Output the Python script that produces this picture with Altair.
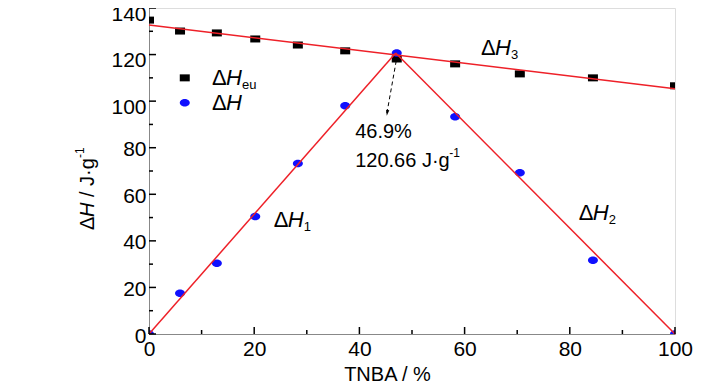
import altair as alt
import pandas as pd

# ---- data ----
tnba = [0, 5.9, 12.9, 20.2, 28.3, 37.3, 47.1, 58.2, 70.5, 84.4, 100]
dH_eu = [134.8, 130.1, 129.3, 126.7, 124.1, 121.6, 118.1, 116.0, 111.7, 110.0, 106.6]
dH = [0, 17.5, 30.4, 50.5, 73.2, 98.0, 120.7, 93.3, 69.3, 31.7, 0]

# fitted lines (start/end points)
fit_x = [0, 100]
fit_h3 = [132.7, 105.3]
eutectic_x = 46.9
eutectic_h = 120.66

x_major = [0, 20, 40, 60, 80, 100]
x_minor = [10, 30, 50, 70, 90]
y_major = [0, 20, 40, 60, 80, 100, 120, 140]
y_minor = [10, 30, 50, 70, 90, 110, 130]

FONT = "Liberation Sans, Arial, sans-serif"
RED = "#ee2028"
BLUE = "#1010ff"

W, H = 526, 326
xs = alt.Scale(domain=[0, 100], nice=False, zero=False)
ys = alt.Scale(domain=[0, 140], nice=False, zero=False)

pts = pd.DataFrame({"x": tnba, "eu": dH_eu, "h": dH})

square = "M -1 -0.7 L 1 -0.7 L 1 0.7 L -1 0.7 Z"
ellipse = "M -1 0 A 1 0.75 0 1 0 1 0 A 1 0.75 0 1 0 -1 0 Z"

base_x = alt.X("x:Q", scale=xs,
               axis=alt.Axis(values=x_major, title="TNBA / %", ticks=False, grid=False,
                             labelPadding=4, labelFontSize=21, titleFontSize=20,
                             titleX=238, titleY=40, titleBaseline="middle",
                             titleFontWeight="normal", labelFlush=False))

sq = alt.Chart(pts).mark_point(shape=square, filled=True, color="black", size=100,
                               opacity=1, clip=True).encode(
    x=base_x,
    y=alt.Y("eu:Q", scale=ys,
            axis=alt.Axis(values=y_major, title=None, ticks=False, grid=False,
                          labelPadding=3, labelFontSize=21, labelFlush=False,
                          labelOffset={"condition": {"test": "datum.value >= 100", "value": 6},
                                       "value": 2})))

el = alt.Chart(pts).mark_point(shape=ellipse, filled=True, color=BLUE, size=100,
                               opacity=1, clip=True).encode(
    x=alt.X("x:Q", scale=xs), y=alt.Y("h:Q", scale=ys))

lines_df = pd.DataFrame({
    "x": [fit_x[0], fit_x[1], 0, eutectic_x, eutectic_x, 100],
    "y": [fit_h3[0], fit_h3[1], 0, eutectic_h, eutectic_h, 0],
    "g": ["h3", "h3", "h1", "h1", "h2", "h2"],
})
fit = alt.Chart(lines_df).mark_line(color=RED, strokeWidth=1.5).encode(
    x=alt.X("x:Q", scale=xs), y=alt.Y("y:Q", scale=ys), detail="g:N")

# dashed arrow
arr_df = pd.DataFrame({"x": [47.0], "y": [117.3], "x2": [45.2], "y2": [94.5]})
arrow = alt.Chart(arr_df).mark_rule(color="black", strokeWidth=1, strokeDash=[4, 3]).encode(
    x=alt.X("x:Q", scale=xs), y=alt.Y("y:Q", scale=ys), x2="x2:Q", y2="y2:Q")
head = alt.Chart(pd.DataFrame({"x": [45.2], "y": [93.7]})).mark_point(
    shape="M 0 0 L -0.55 -2 L 0.55 -2 Z", filled=True, color="black", size=36,
    opacity=1, angle=9).encode(x=alt.X("x:Q", scale=xs), y=alt.Y("y:Q", scale=ys))

# tick marks (inside)
def vticks(vals, length):
    return alt.Chart(pd.DataFrame({"x": vals})).mark_rule(color="black", strokeWidth=1.5).encode(
        x=alt.X("x:Q", scale=xs), y=alt.value(H), y2=alt.value(H - length))

def hticks(vals, length):
    return alt.Chart(pd.DataFrame({"y": vals})).mark_rule(color="black", strokeWidth=1.5).encode(
        y=alt.Y("y:Q", scale=ys), x=alt.value(0), x2=alt.value(length))

ticks = [vticks(x_major, 7), vticks(x_minor, 4), hticks(y_major, 7), hticks(y_minor, 4)]

# text pieces in data coordinates
def piece(x, y, text, dx=0, dy=0, size=22, style="normal"):
    return alt.Chart(pd.DataFrame({"x": [x], "y": [y], "t": [text]})).mark_text(
        align="left", baseline="middle", dx=dx, dy=dy, fontSize=size, font=FONT,
        fontStyle=style, color="black").encode(
        x=alt.X("x:Q", scale=xs), y=alt.Y("y:Q", scale=ys), text="t:N")

def dlabel(x, y, sub):
    return [piece(x, y, "Δ"), piece(x, y, "H", dx=14, style="italic"),
            piece(x, y, sub, dx=30, dy=7, size=13)]

labels = []
labels += dlabel(23.7, 48.8, "1")
labels += dlabel(81.7, 51.8, "2")
labels += dlabel(63.1, 122.8, "3")

# legend (drawn)
leg_sq = alt.Chart(pd.DataFrame({"x": [6.8], "y": [110.0]})).mark_point(
    shape=square, filled=True, color="black", size=100, opacity=1).encode(
    x=alt.X("x:Q", scale=xs), y=alt.Y("y:Q", scale=ys))
leg_el = alt.Chart(pd.DataFrame({"x": [6.8], "y": [99.3]})).mark_point(
    shape=ellipse, filled=True, color=BLUE, size=100, opacity=1).encode(
    x=alt.X("x:Q", scale=xs), y=alt.Y("y:Q", scale=ys))
labels += [piece(12.0, 110.0, "Δ"), piece(12.0, 110.0, "H", dx=14, style="italic"),
           piece(12.0, 110.0, "eu", dx=30, dy=7, size=13)]
labels += [piece(12.0, 99.3, "Δ"), piece(12.0, 99.3, "H", dx=14, style="italic")]

# annotation
labels += [piece(39.2, 86.9, "46.9%", size=20),
           piece(39.2, 74.5, "120.66 J·g", size=20),
           piece(39.2, 74.5, "-1", dx=94, dy=-8, size=12)]

# y title pieces (rotated)
def ytitle(text, dx=0, dy=0, size=20, style="normal"):
    return alt.Chart(pd.DataFrame({"t": [text]})).mark_text(
        align="left", baseline="middle", angle=270, dx=dx, dy=dy, fontSize=size,
        font=FONT, fontStyle=style, color="black").encode(
        x=alt.value(-61), y=alt.value(222), text="t:N")

ytitles = [ytitle("Δ"), ytitle("H", dx=13, style="italic"), ytitle("/ J·g", dx=33),
           ytitle("-1", dx=72, dy=-8, size=12)]

chart = alt.layer(sq, el, fit, arrow, head, *ticks, leg_sq, leg_el, *labels, *ytitles).properties(
    width=W, height=H,
    autosize=alt.AutoSizeParams(type="none"),
    padding={"left": 141, "top": 0, "right": 45, "bottom": 56},
).configure_view(stroke="black", strokeWidth=2).configure_axis(
    domainColor="black", domainWidth=2, labelColor="black", titleColor="black",
    labelFont=FONT, titleFont=FONT
).configure(background="white")

chart.save("out.html", embed_options={"renderer": "svg", "actions": False})
